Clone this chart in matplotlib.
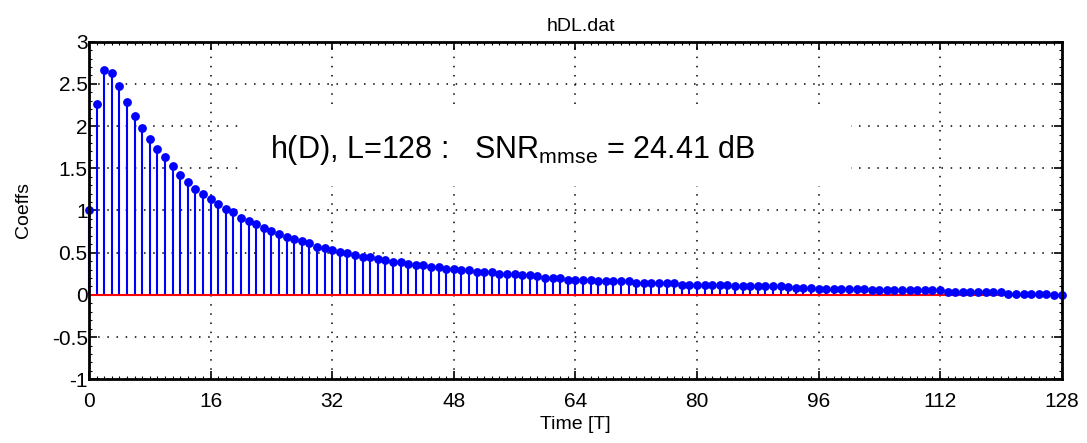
import matplotlib
matplotlib.use("Agg")
import matplotlib.pyplot as plt
from matplotlib.patches import Rectangle
from matplotlib.ticker import MultipleLocator
import numpy as np

plt.rcParams['font.family'] = ['Liberation Sans', 'DejaVu Sans']
plt.rcParams['mathtext.fontset'] = 'custom'
plt.rcParams['mathtext.rm'] = 'Liberation Sans'
plt.rcParams['mathtext.it'] = 'Liberation Sans'

title = "hDL.dat"
xlabel = "Time [T]"
ylabel = "Coeffs"
annotation = r"h(D), L=128 :   SNR$_{\mathrm{mmse}}$ = 24.41 dB"

n = list(range(129))
coeffs = [
    1.00, 2.26, 2.67, 2.63, 2.47, 2.28, 2.12, 1.98, 1.85, 1.73,
    1.63, 1.53, 1.42, 1.34, 1.26, 1.20, 1.14, 1.08, 1.02, 0.98,
    0.91, 0.88, 0.84, 0.79, 0.76, 0.72, 0.69, 0.66, 0.64, 0.62,
    0.57, 0.55, 0.53, 0.51, 0.50, 0.47, 0.45, 0.45, 0.43, 0.41,
    0.39, 0.39, 0.37, 0.35, 0.35, 0.33, 0.33, 0.31, 0.31, 0.29,
    0.29, 0.27, 0.27, 0.27, 0.25, 0.25, 0.25, 0.23, 0.23, 0.22,
    0.20, 0.20, 0.20, 0.18, 0.18, 0.18, 0.18, 0.16, 0.16, 0.16,
    0.16, 0.16, 0.14, 0.14, 0.14, 0.14, 0.14, 0.14, 0.12, 0.12,
    0.12, 0.12, 0.12, 0.12, 0.12, 0.10, 0.10, 0.10, 0.10, 0.10,
    0.10, 0.10, 0.09, 0.08, 0.08, 0.08, 0.075, 0.075, 0.075, 0.075,
    0.075, 0.075, 0.075, 0.055, 0.055, 0.055, 0.055, 0.055, 0.055, 0.055,
    0.055, 0.055, 0.055, 0.036, 0.036, 0.036, 0.036, 0.036, 0.036, 0.036,
    0.036, 0.016, 0.016, 0.016, 0.016, 0.016, 0.016, 0.003, 0.0,
]
xticks = [0, 16, 32, 48, 64, 80, 96, 112, 128]
yticks = [-1, -0.5, 0, 0.5, 1, 1.5, 2, 2.5, 3]
yticklabels = ["-1", "-0.5", "0", "0.5", "1", "1.5", "2", "2.5", "3"]

fig = plt.figure(figsize=(10.87, 4.43), dpi=100)
ax = fig.add_axes([0.0819, 0.1438, 0.8948, 0.7621])

ml, sl, bl = ax.stem(n, coeffs, linefmt='b-', markerfmt='bo', basefmt='r-')
plt.setp(sl, linewidth=1.5, color='#0000ff', zorder=3)
plt.setp(ml, markersize=5.3, color='#0000ff', zorder=4, clip_on=False)
plt.setp(bl, linewidth=1.5, color='#ff0000', zorder=3)
sl.set_clip_on(False)

ax.set_xlim(0, 128)
ax.set_ylim(-1, 3)
ax.set_xticks(xticks)
ax.set_xticklabels([str(t) for t in xticks])
ax.set_yticks(yticks)
ax.set_yticklabels(yticklabels)
ax.xaxis.set_minor_locator(MultipleLocator(1))
ax.yaxis.set_minor_locator(MultipleLocator(0.1))
ax.tick_params(which='both', direction='in', top=True, right=True, colors='black')
ax.tick_params(which='major', length=6, width=1.2, labelsize=15)
ax.tick_params(which='minor', length=2.5, width=0.8)
ax.tick_params(axis='y', which='major', pad=1)
ax.tick_params(axis='x', which='major', pad=9)
for sp in ax.spines.values():
    sp.set_linewidth(2)
    sp.set_zorder(5)

ax.grid(True, which='major', color='black', linestyle=(0, (1, 5)), linewidth=1.1)
ax.set_axisbelow(True)

ax.add_patch(Rectangle((0.158, 0.5726), 0.625, 0.231, transform=ax.transAxes,
                       facecolor='white', edgecolor='none', zorder=2))
ax.text(0.186, 0.6555, annotation, transform=ax.transAxes, fontsize=22,
        ha='left', va='baseline', zorder=6)

ax.set_title(title, fontsize=14, pad=8, x=0.506)
ax.set_xlabel(xlabel, fontsize=14, labelpad=4)
ax.set_ylabel(ylabel, fontsize=14, labelpad=14)

fig.savefig("out.png", dpi=100)
